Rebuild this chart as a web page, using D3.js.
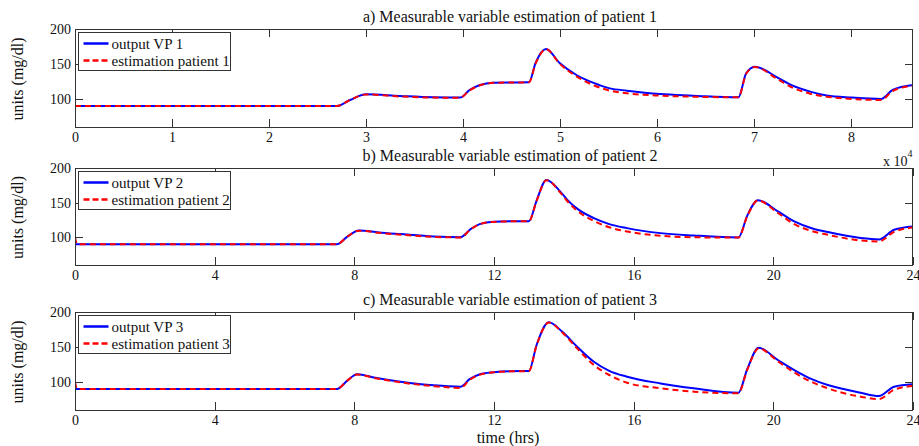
<!DOCTYPE html>
<html>
<head>
<meta charset="utf-8">
<script src="https://cdn.jsdelivr.net/npm/d3@7"></script>
<style>
  html, body { margin: 0; padding: 0; background: #fff; }
</style>
</head>
<body>
<svg id="chart" width="919" height="446"></svg>
<script>
// Patient 1: time in seconds
const time1 = [0, 27000, 28350, 30000, 33500, 36900, 39700, 40700, 41750, 43100, 46800,
  47500, 48560, 50000, 51700, 53400, 55150, 56900, 60300, 63700, 68400, 69200, 70100,
  72400, 74000, 75800, 77500, 80100, 83100, 84300, 86400];
const vp1 = [90, 90, 98.6, 106.7, 104.3, 102.4, 102, 113, 120, 123.3, 123.8,
  152, 171.4, 151, 134.3, 123.3, 115.2, 111.9, 107, 104.8, 102.4, 136.7, 146.2,
  131, 119, 110.5, 105, 102, 100, 112.9, 120];
const est1 = [90, 90, 98.6, 106.5, 103.6, 102, 101.8, 112.5, 119.6, 123.2, 123.8,
  151, 171.2, 150, 132.4, 120, 111.9, 108.1, 104.8, 103.3, 102.4, 136, 145.8,
  128.6, 116.1, 107.6, 103.3, 100, 98.6, 111.4, 119];

// Patients 2 and 3: time in hours
const time2 = [0, 0.06, 7.5, 7.8, 8.13, 8.7, 9.32, 10.27, 11.04, 11.33, 11.61, 11.99, 12.5, 13.0,
  13.22, 13.5, 13.9, 14.1, 14.39, 14.86, 15.3, 15.81, 16.77, 17.72, 19.0, 19.26, 19.56,
  20.13, 20.6, 21.1, 21.56, 22.5, 23.02, 23.46, 24];
const vp2 = [90, 90, 90, 101, 109.8, 107, 104.6, 101.2, 100.2, 111.8, 119.4, 122.3, 123, 123,
  153, 182.7, 165.9, 154, 141, 127.6, 119, 113.2, 106, 102.6, 99.8, 132, 153.5,
  137.3, 122.9, 113, 107.5, 98.9, 96.9, 110.8, 115.5];
const est2 = [100, 90, 90, 101, 109.6, 106.5, 103.8, 100.6, 99.8, 111.4, 119.2, 122.2, 123, 123,
  152.5, 182.5, 164.5, 152, 138, 123.5, 114.5, 108.4, 102.2, 100, 99.6, 131.5, 153.2,
  135, 119, 109, 103.6, 95.4, 94, 108, 114];

const time3 = [0, 0.06, 7.5, 7.8, 8.08, 8.6, 9.32, 10.27, 11.04, 11.3, 11.6, 11.99, 12.5, 13.0,
  13.22, 13.57, 13.95, 14.38, 14.86, 15.3, 15.81, 16.77, 17.72, 19.0, 19.25, 19.58,
  20.13, 20.6, 21.1, 21.56, 22.5, 23.02, 23.46, 24];
const vp3 = [90, 90, 90, 102, 111, 106, 100.5, 95.2, 93.3, 104, 111, 114, 115.5, 115.7,
  152.9, 185.2, 172, 150.5, 129, 116, 107.6, 98, 91, 84.7, 118, 149,
  131.4, 117, 104, 95.7, 84.7, 80, 93.3, 96.7];
const est3 = [100, 90, 90, 102, 110.8, 105.5, 99.5, 94, 91.5, 103, 110.5, 113.8, 115.3, 115.5,
  152.5, 185, 171, 148, 124.3, 110, 99, 91, 86.2, 83.8, 117, 148,
  129.5, 113.5, 100, 91, 79, 75.7, 89, 94.3];

const yTicks = [100, 150, 200];
const xTicks1 = [0, 10000, 20000, 30000, 40000, 50000, 60000, 70000, 80000];
const xTicksH = [0, 4, 8, 12, 16, 20, 24];

const titles = [
  "a) Measurable variable estimation of patient 1",
  "b) Measurable variable estimation of patient 2",
  "c) Measurable variable estimation of patient 3"
];
const vpNames = ["output VP 1", "output VP 2", "output VP 3"];
const estNames = ["estimation patient 1", "estimation patient 2", "estimation patient 3"];

const FONT = "'Liberation Serif', 'Times New Roman', Tinos, 'DejaVu Serif', serif";

const svg = d3.select("#chart").attr("font-family", FONT);
const left = 75, right = 913;
const titleX = 510;
const panels = [
  { top: 29, bottom: 127, t: time1, vp: vp1, est: est1, domain: [0, 86400], ticks: xTicks1, fmt: d => d / 10000 },
  { top: 168, bottom: 265, t: time2, vp: vp2, est: est2, domain: [0, 24], ticks: xTicksH, fmt: d => d },
  { top: 312, bottom: 410, t: time3, vp: vp3, est: est3, domain: [0, 24], ticks: xTicksH, fmt: d => d }
];

const axisColor = "#333";
const textColor = "#111";
const tickLen = 8;

function txt(sel) {
  return sel.attr("font-family", FONT).style("font-family", FONT).attr("fill", textColor);
}

panels.forEach((p, i) => {
  const x = d3.scaleLinear().domain(p.domain).range([left, right]);
  const y = d3.scaleLinear().domain([60, 200]).range([p.bottom, p.top]);
  const g = svg.append("g");

  const clipId = "clip" + i;
  g.append("clipPath").attr("id", clipId)
    .append("rect").attr("x", left).attr("y", p.top)
    .attr("width", right - left).attr("height", p.bottom - p.top);

  const line = (vals) => d3.line()
    .x((d, k) => x(p.t[k]))
    .y(d => y(d))
    .curve(d3.curveMonotoneX)(vals);

  const lg = g.append("g").attr("clip-path", `url(#${clipId})`);
  lg.append("path").attr("d", line(p.vp))
    .attr("fill", "none").attr("stroke", "#0000ff").attr("stroke-width", 2);
  lg.append("path").attr("d", line(p.est))
    .attr("fill", "none").attr("stroke", "#ff0000").attr("stroke-width", 2)
    .attr("stroke-dasharray", "6,4");

  // tick labels from the library axes; tick marks drawn inward on all four sides
  const bottomAx = d3.axisBottom(x).tickValues(p.ticks).tickFormat(p.fmt).tickSize(0).tickPadding(5);
  const ab = g.append("g").attr("transform", `translate(0,${p.bottom})`).call(bottomAx);
  ab.attr("font-family", FONT);
  ab.select(".domain").remove();
  txt(ab.selectAll("text")).attr("font-size", 14).attr("dy", "0.71em");

  const leftAx = d3.axisLeft(y).tickValues(yTicks).tickSize(0).tickPadding(4);
  const al = g.append("g").attr("transform", `translate(${left},0)`).call(leftAx);
  al.attr("font-family", FONT);
  al.select(".domain").remove();
  txt(al.selectAll("text")).attr("font-size", 14);

  const tg = g.append("g").attr("stroke", axisColor).attr("stroke-width", 1);
  p.ticks.forEach(v => {
    const xx = Math.round(x(v)) + 0.5;
    tg.append("line").attr("x1", xx).attr("x2", xx).attr("y1", p.bottom).attr("y2", p.bottom - tickLen);
    tg.append("line").attr("x1", xx).attr("x2", xx).attr("y1", p.top).attr("y2", p.top + tickLen);
  });
  yTicks.forEach(v => {
    const yy = Math.round(y(v)) + 0.5;
    tg.append("line").attr("x1", left).attr("x2", left + tickLen).attr("y1", yy).attr("y2", yy);
    tg.append("line").attr("x1", right).attr("x2", right - tickLen).attr("y1", yy).attr("y2", yy);
  });

  g.append("rect").attr("x", left + 0.5).attr("y", p.top + 0.5)
    .attr("width", right - left - 1).attr("height", p.bottom - p.top)
    .attr("fill", "none").attr("stroke", axisColor).attr("stroke-width", 1);

  // title
  txt(g.append("text")).attr("x", titleX).attr("y", p.top - 7)
    .attr("text-anchor", "middle").attr("font-size", 16).text(titles[i]);

  // y label
  txt(g.append("text"))
    .attr("transform", `translate(23,${(p.top + p.bottom) / 2 + 1}) rotate(-90)`)
    .attr("text-anchor", "middle").attr("font-size", 16).text("units (mg/dl)");

  // legend
  const lx = 78.5, ly = p.top + 3.5;
  const leg = g.append("g");
  leg.append("rect").attr("x", lx).attr("y", ly).attr("width", 152).attr("height", 38)
    .attr("fill", "#fff").attr("stroke", axisColor).attr("stroke-width", 1);
  leg.append("line").attr("x1", lx + 5).attr("x2", lx + 30).attr("y1", ly + 11).attr("y2", ly + 11)
    .attr("stroke", "#0000ff").attr("stroke-width", 2.5);
  leg.append("line").attr("x1", lx + 5).attr("x2", lx + 30).attr("y1", ly + 28).attr("y2", ly + 28)
    .attr("stroke", "#ff0000").attr("stroke-width", 2.5).attr("stroke-dasharray", "6,3");
  txt(leg.append("text")).attr("x", lx + 33).attr("y", ly + 16).attr("font-size", 15).text(vpNames[i]);
  txt(leg.append("text")).attr("x", lx + 33).attr("y", ly + 33).attr("font-size", 15).text(estNames[i]);
});

// exponent marker for the seconds axis
const ex = txt(svg.append("text")).attr("x", 883).attr("y", 166).attr("font-size", 14);
ex.append("tspan").text("x 10");
ex.append("tspan").attr("dy", -9).attr("font-size", 10).text("4");

// shared x label
txt(svg.append("text")).attr("x", 508).attr("y", 443).attr("text-anchor", "middle")
  .attr("font-size", 16).text("time (hrs)");
</script>
</body>
</html>
